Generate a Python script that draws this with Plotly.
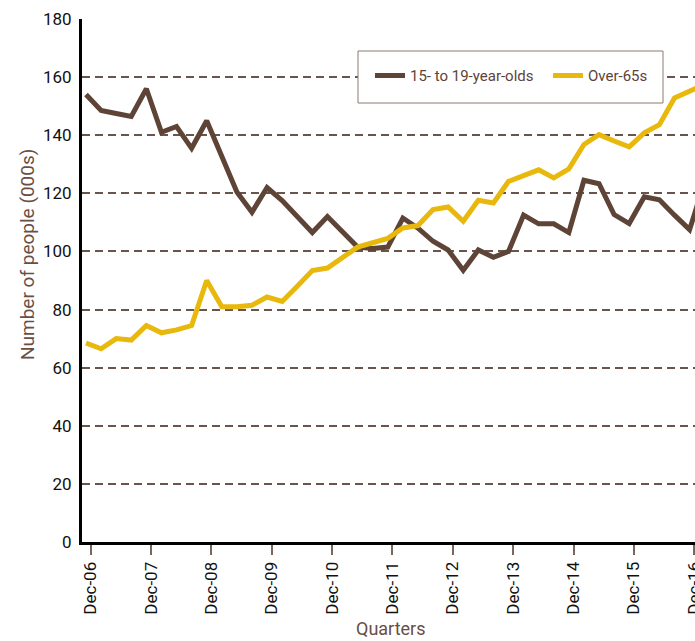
import plotly.graph_objects as go

# ---- data ----
quarter_index = list(range(42))  # quarterly observations

teens = [154, 148.5, 147.5, 146.5, 156, 141, 143, 135.5, 145, 133,
         120.5, 113.5, 122, 117.5, 112, 106.5, 112, 106.5, 101.5, 101,
         101.5, 111.5, 108, 103.5, 100.5, 93.5, 100.5, 98, 100, 112.5,
         109.5, 109.5, 106.5, 124.5, 123.3, 112.7, 109.6, 118.8, 117.8, 112.5,
         107.5, 124]

over65 = [68.5, 66.5, 70, 69.5, 74.5, 72, 73, 74.5, 90, 81,
          81, 81.5, 84.3, 82.8, 88, 93.4, 94.3, 98, 101.5, 103,
          104.5, 108.1, 108.9, 114.4, 115.3, 110.4, 117.6, 116.7, 124.1, 126.1,
          128.1, 125.3, 128.4, 136.8, 140.2, 138, 136, 140.8, 143.6, 152.8,
          155.3, 157.5]

tick_labels = ["Dec-06", "Dec-07", "Dec-08", "Dec-09", "Dec-10", "Dec-11",
               "Dec-12", "Dec-13", "Dec-14", "Dec-15", "Dec-16"]
tick_positions = [0.31 + 4 * k for k in range(len(tick_labels))]

y_ticks = list(range(0, 181, 20))

BROWN = "#5E4337"
YELLOW = "#E8B90C"
TITLE_BROWN = "#6B4E42"
GRID = "#6A554C"
FONT = "Roboto, Liberation Sans, sans-serif"

W, H = 695, 641
ML, MT, PW, PH = 82, 19, 613, 523
MB = H - MT - PH


def px_x(page_x):
    return (page_x - ML) / PW


def px_y(page_y):
    return (MT + PH - page_y) / PH


fig = go.Figure()
fig.add_trace(go.Scatter(x=quarter_index, y=teens, mode="lines", name="15- to 19-year-olds",
                         line=dict(color=BROWN, width=5)))
fig.add_trace(go.Scatter(x=quarter_index, y=over65, mode="lines", name="Over-65s",
                         line=dict(color=YELLOW, width=5)))

# legend frame
fig.add_shape(type="rect", xref="paper", yref="paper",
              x0=px_x(358), x1=px_x(663), y0=px_y(103), y1=px_y(51),
              line=dict(color="#8C7B74", width=1), fillcolor="white", layer="above")

fig.add_annotation(text="Number of people (000s)", xref="paper", yref="paper",
                   x=px_x(27), y=px_y(255), xanchor="center", yanchor="middle",
                   textangle=-90, showarrow=False,
                   font=dict(family=FONT, size=19, color=TITLE_BROWN))
fig.add_annotation(text="Quarters", xref="paper", yref="paper",
                   x=px_x(390), y=px_y(628), xanchor="center", yanchor="middle",
                   showarrow=False, font=dict(family=FONT, size=18, color=TITLE_BROWN))

fig.update_layout(
    width=W, height=H,
    margin=dict(l=ML, r=0, t=MT, b=MB, autoexpand=False),
    paper_bgcolor="white", plot_bgcolor="white",
    font=dict(family=FONT, size=17, color="#111111"),
    showlegend=True,
    legend=dict(orientation="h", x=px_x(370), xanchor="left",
                y=px_y(75.7), yanchor="middle",
                bgcolor="rgba(0,0,0,0)", borderwidth=0,
                entrywidth=133, entrywidthmode="pixels",
                font=dict(family=FONT, size=15, color=BROWN)),
    xaxis=dict(range=[-0.265, 40.36], tickmode="array", tickvals=tick_positions,
               ticktext=tick_labels, tickangle=-90, ticks="outside", ticklen=10,
               tickwidth=2, tickcolor="#7A665E", showgrid=False, zeroline=False,
               showline=True, linecolor="#000000", linewidth=3,
               ticklabeloverflow="allow",
               tickfont=dict(family=FONT, size=17, color="#111111")),
    yaxis=dict(range=[0, 180], tickmode="array", tickvals=y_ticks, ticks="",
               showgrid=True, gridcolor=GRID, gridwidth=1.8, griddash="8px,5px",
               zeroline=False, showline=True, linecolor="#000000", linewidth=3,
               ticklabelstandoff=4,
               tickfont=dict(family=FONT, size=17, color="#111111")),
)

fig.write_html("out.html", config={"displayModeBar": False},
               post_script="document.body.style.margin='0';")
